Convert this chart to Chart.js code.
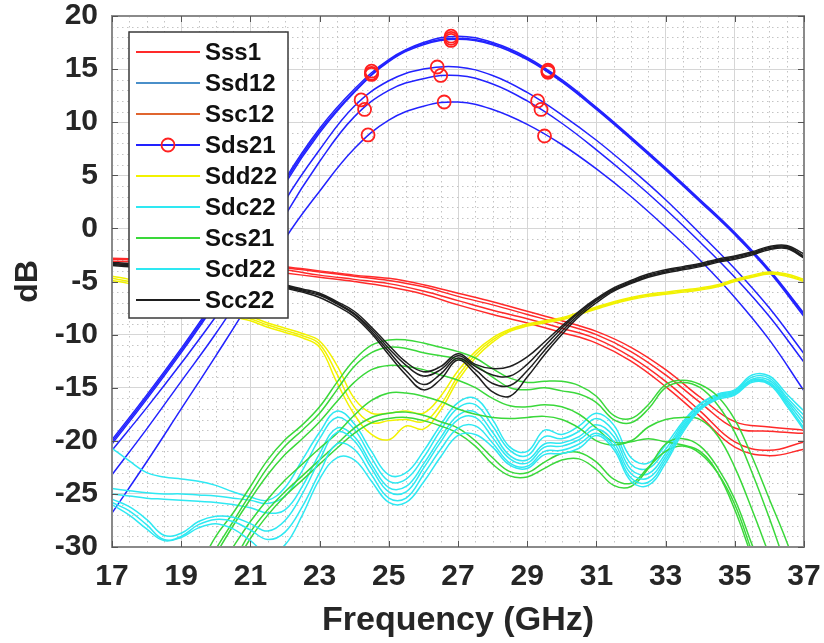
<!DOCTYPE html>
<html>
<head>
<meta charset="utf-8">
<script src="https://cdn.jsdelivr.net/npm/chart.js@4.4.1/dist/chart.umd.min.js"></script>
<style>
  html, body { margin: 0; padding: 0; background: #fff; }
  canvas { display: block; }
</style>
</head>
<body>
<canvas id="chart" width="824" height="643"></canvas>
<script>
// frequency points (GHz)
var freqCoarse = [17,18,19,20,21,22,23,24,25,26,27,28,29,30,31,32,33,34,35,36,37];
var freqFine = [17,17.5,18,18.5,19,19.5,20,20.5,21,21.5,22,22.5,23,23.5,24,24.5,25,25.5,26,26.5,
                27,27.5,28,28.5,29,29.5,30,30.5,31,31.5,32,32.5,33,33.5,34,34.5,35,35.5,36,36.5,37];

// Sss1 (dB, on freqCoarse)
var sss1A = [-2.8,-2.9,-3.0,-3.1,-3.3,-3.6,-4.0,-4.4,-4.7,-5.3,-6.1,-6.9,-7.8,-8.7,-9.7,-11.2,-13.3,-15.9,-18.2,-18.7,-19.0];
var sss1B = [-2.9,-3.0,-3.1,-3.2,-3.4,-3.7,-4.1,-4.5,-4.9,-5.5,-6.4,-7.2,-8.1,-9.0,-10.0,-11.6,-13.8,-16.4,-18.8,-19.1,-19.3];
var sss1C = [-3.1,-3.2,-3.3,-3.4,-3.6,-3.9,-4.4,-4.8,-5.2,-5.9,-6.8,-7.7,-8.5,-9.4,-10.4,-12.1,-14.4,-17.2,-20.1,-20.9,-20.1];
var sss1D = [-3.3,-3.4,-3.5,-3.6,-3.8,-4.2,-4.6,-5.0,-5.5,-6.2,-7.2,-8.1,-8.9,-9.8,-10.8,-12.5,-14.9,-17.7,-20.6,-21.4,-20.8];

// Ssd12 / Ssc12: nothing visible inside the plotted range
var ssd12 = [];
var ssc12 = [];

// Sds21 (dB, on freqCoarse)
var sds21A = [-19.9,-15.7,-11.3,-6.6,-1.4,4.6,9.4,13.1,15.9,17.5,18.1,17.5,16.1,14.0,11.4,8.6,5.7,2.7,-0.4,-3.9,-8.0];
var sds21B = [-20.1,-15.9,-11.5,-6.8,-1.6,4.4,9.2,12.9,15.8,17.4,17.9,17.4,16.0,13.9,11.3,8.5,5.6,2.6,-0.5,-4.0,-8.1];
var sds21C = [-20.3,-16.1,-11.7,-7.0,-1.8,4.2,9.0,12.8,15.7,17.3,17.8,17.3,15.9,13.8,11.2,8.4,5.5,2.5,-0.6,-4.1,-8.3];
var sds21D = [-20.9,-16.9,-12.7,-8.3,-3.5,2.6,7.4,11.5,13.9,15.0,15.2,14.4,12.8,10.7,8.3,5.6,2.7,-0.5,-3.8,-7.5,-11.8];
var sds21E = [-23.2,-18.9,-14.4,-9.9,-4.9,1.2,6.3,10.5,13.0,14.1,14.4,13.6,12.0,9.9,7.4,4.7,1.8,-1.3,-4.6,-8.3,-12.6];
var sds21F = [-26.8,-22.0,-17.0,-12.0,-6.8,-1.0,3.5,7.5,10.2,11.5,11.9,11.2,9.8,7.9,5.6,3.0,0.1,-3.0,-6.5,-10.5,-15.3];
// Sds21 marker circles
var sds21MarkFreq = [24.5,26.8,29.6, 24.5,26.8,29.6, 24.5,26.8,29.6, 24.2,26.4,29.3, 24.3,26.5,29.4, 24.4,26.6,29.5];
var sds21MarkVal  = [14.8,18.1,14.9, 14.6,17.9,14.8, 14.5,17.7,14.7, 12.1,15.2,12.0, 11.2,14.4,11.2, 8.8,11.9,8.7];

// Sdd22 (dB, on freqFine)
var sdd22A = [-4.5,-4.8,-5.2,-5.6,-6.1,-6.7,-7.3,-7.9,-8.3,-8.9,-9.4,-9.9,-10.6,-12.9,-16.0,-17.4,-17.4,-17.2,-17.4,-15.8,
              -13.4,-11.6,-10.3,-9.5,-9.0,-8.7,-8.4,-7.9,-7.4,-6.9,-6.5,-6.2,-6.0,-5.8,-5.6,-5.3,-4.8,-4.4,-4.1,-4.3,-4.8];
var sdd22B = [-4.7,-5.0,-5.4,-5.8,-6.3,-6.9,-7.5,-8.1,-8.5,-9.1,-9.6,-10.1,-10.9,-13.7,-16.8,-18.3,-18.1,-18.0,-18.2,-16.6,
              -13.9,-11.9,-10.5,-9.6,-9.1,-8.8,-8.5,-8.0,-7.5,-7.0,-6.6,-6.3,-6.1,-5.9,-5.7,-5.4,-4.9,-4.5,-4.2,-4.4,-4.9];
var sdd22C = [-4.9,-5.2,-5.6,-6.0,-6.5,-7.1,-7.7,-8.3,-8.7,-9.3,-9.8,-10.3,-11.2,-14.5,-17.5,-19.4,-19.9,-18.6,-18.9,-17.1,
              -14.3,-12.2,-10.7,-9.7,-9.2,-8.9,-8.6,-8.1,-7.6,-7.1,-6.7,-6.4,-6.2,-6.0,-5.8,-5.5,-5.0,-4.6,-4.3,-4.5,-5.0];

// Sdc22 (dB, on freqFine)
var sdc22A = [-20.7,-21.9,-23.0,-23.4,-23.6,-23.8,-24.2,-24.8,-25.3,-25.6,-24.4,-21.8,-19.2,-17.2,-18.4,-21.0,-23.2,-23.0,-21.0,-18.5,
              -16.4,-16.0,-18.0,-20.6,-21.0,-19.0,-19.4,-18.6,-17.4,-18.5,-21.6,-22.1,-20.4,-18.2,-16.5,-15.6,-15.2,-13.8,-13.9,-15.6,-17.2];
var sdc22B = [-24.5,-24.7,-24.9,-25.0,-25.0,-25.1,-25.2,-25.4,-25.6,-25.9,-25.2,-22.8,-19.8,-17.8,-18.9,-21.6,-23.8,-23.6,-21.6,-19.0,
              -16.9,-16.6,-18.6,-20.9,-21.4,-19.6,-19.8,-19.1,-17.9,-19.1,-22.2,-22.6,-20.8,-18.4,-16.6,-15.7,-15.3,-14.0,-14.1,-15.9,-17.6];
var sdc22C = [-25.0,-25.2,-25.4,-25.5,-25.6,-25.7,-25.8,-26.0,-26.3,-26.8,-26.5,-24.3,-21.2,-18.8,-19.6,-22.2,-24.4,-24.3,-22.2,-19.7,
              -17.6,-17.3,-19.2,-21.4,-21.8,-20.3,-20.2,-19.6,-18.5,-19.6,-22.7,-23.1,-21.2,-18.6,-16.8,-15.8,-15.4,-14.2,-14.3,-16.1,-18.0];

// Scs21 (dB, on freqFine; null = below the plotted range)
var scs21A = [null,null,null,null,null,-32.0,-29.0,-26.8,-24.3,-21.8,-19.9,-18.5,-16.8,-14.5,-12.4,-11.0,-10.5,-10.5,-10.8,-11.2,
              -11.6,-12.2,-13.2,-14.1,-14.5,-14.4,-14.4,-14.8,-15.8,-17.6,-17.9,-16.6,-14.7,-14.3,-14.7,-15.8,-18.0,-21.5,-25.5,-29.5,-34.0];
var scs21B = [null,null,null,null,null,-33.0,-30.2,-27.6,-25.0,-22.5,-20.5,-19.0,-17.4,-15.2,-13.0,-11.7,-11.2,-11.3,-11.7,-12.0,
              -12.3,-12.9,-14.0,-15.0,-15.2,-15.0,-15.3,-15.6,-16.4,-18.0,-18.3,-17.0,-15.0,-14.5,-15.0,-16.6,-19.2,-23.0,-27.3,-32.0,null];
var scs21C = [null,null,null,null,null,-33.5,-30.7,-28.0,-25.5,-23.2,-21.3,-19.8,-18.2,-16.3,-14.5,-13.3,-12.9,-13.0,-13.3,-13.8,
              -14.3,-15.0,-16.0,-16.7,-16.8,-16.6,-16.8,-17.5,-18.8,-20.1,-20.0,-18.7,-18.0,-17.8,-18.0,-19.5,-22.5,-26.5,-30.8,null,null];
var scs21D = [null,null,null,null,null,null,-32.5,-30.0,-27.6,-25.5,-23.7,-22.2,-20.7,-19.3,-17.6,-16.2,-15.5,-15.5,-15.8,-16.3,
              -17.0,-17.5,-17.8,-17.9,-17.8,-17.7,-18.0,-18.8,-20.0,-20.4,-20.1,-19.8,-20.1,-20.4,-21.0,-23.0,-26.5,-31.0,null,null,null];
var scs21E = [null,null,null,null,null,null,null,-31.5,-28.6,-26.5,-24.8,-23.3,-21.8,-20.3,-18.8,-17.8,-17.4,-17.3,-17.6,-18.2,
              -18.8,-20.0,-21.6,-22.9,-23.0,-22.0,-21.2,-21.1,-22.0,-23.6,-24.0,-22.5,-21.0,-20.5,-21.2,-23.0,-26.0,-30.5,null,null,null];
var scs21F = [null,null,null,null,null,null,null,-32.0,-29.2,-27.0,-25.2,-23.7,-22.2,-20.7,-19.3,-18.3,-17.9,-17.8,-18.1,-18.6,
              -19.3,-20.5,-22.2,-23.3,-23.4,-22.6,-21.8,-21.7,-22.7,-24.2,-24.3,-22.6,-20.3,-19.8,-20.5,-22.5,-25.5,-29.8,-34.0,null,null];

// Scd22 (dB, on freqFine)
var scd22A = [-25.5,-26.2,-27.4,-28.9,-28.7,-27.6,-27.1,-27.2,-27.8,-28.5,-27.5,-25.0,-21.8,-19.2,-20.0,-22.6,-24.8,-24.8,-22.6,-20.1,
              -18.0,-17.8,-19.7,-21.7,-22.1,-20.6,-20.5,-19.9,-18.9,-20.1,-23.1,-23.5,-21.5,-18.8,-16.9,-15.9,-15.5,-14.3,-14.5,-16.3,-18.4];
var scd22B = [-25.8,-26.6,-27.9,-29.3,-29.0,-27.9,-27.4,-27.6,-28.4,-29.3,-28.6,-26.2,-23.0,-20.3,-20.8,-23.2,-25.4,-25.4,-23.2,-20.8,
              -18.8,-18.6,-20.2,-22.1,-22.4,-21.0,-20.9,-20.3,-19.3,-20.5,-23.5,-23.9,-21.8,-19.0,-17.0,-16.0,-15.6,-14.4,-14.6,-16.5,-18.8];
var scd22C = [-26.0,-27.0,-28.3,-29.4,-29.1,-28.2,-27.8,-28.3,-29.4,-30.6,-29.8,-27.0,-23.6,-21.6,-21.8,-23.8,-25.8,-25.8,-23.9,-21.5,
              -19.5,-19.4,-20.6,-22.3,-22.6,-21.3,-21.2,-20.7,-19.5,-20.8,-23.8,-24.2,-22.1,-19.2,-17.1,-16.1,-15.7,-14.5,-14.7,-16.7,-19.0];

// Scc22 (dB, on freqFine)
var scc22A = [-3.2,-3.3,-3.3,-3.4,-3.4,-3.5,-3.6,-3.8,-4.2,-4.7,-5.3,-5.7,-6.1,-6.9,-7.8,-9.3,-11.0,-12.6,-13.5,-13.0,
              -11.8,-12.8,-13.2,-13.0,-12.1,-10.7,-9.2,-7.8,-6.6,-5.6,-4.9,-4.3,-3.9,-3.6,-3.3,-2.9,-2.6,-2.2,-1.7,-1.6,-2.4];
var scc22B = [-3.3,-3.4,-3.4,-3.5,-3.5,-3.6,-3.7,-3.9,-4.3,-4.8,-5.4,-5.8,-6.2,-7.0,-8.0,-9.5,-11.3,-12.9,-13.9,-13.3,
              -12.0,-13.0,-13.8,-13.9,-12.8,-11.1,-9.4,-7.9,-6.7,-5.7,-5.0,-4.4,-4.0,-3.7,-3.4,-3.0,-2.7,-2.3,-1.8,-1.7,-2.6];
var scc22C = [-3.4,-3.5,-3.5,-3.6,-3.6,-3.7,-3.8,-4.0,-4.4,-4.9,-5.5,-5.9,-6.3,-7.1,-8.1,-9.7,-11.6,-13.4,-14.7,-13.7,
              -12.2,-13.3,-14.6,-14.8,-13.4,-11.5,-9.7,-8.1,-6.8,-5.8,-5.1,-4.5,-4.1,-3.8,-3.5,-3.1,-2.8,-2.4,-1.9,-1.8,-2.7];
var scc22D = [-3.5,-3.6,-3.6,-3.7,-3.7,-3.8,-3.9,-4.1,-4.5,-5.0,-5.6,-6.0,-6.5,-7.3,-8.3,-9.9,-11.9,-13.8,-15.2,-14.2,
              -12.4,-13.7,-15.4,-15.8,-14.0,-11.9,-10.0,-8.3,-7.0,-5.9,-5.2,-4.6,-4.2,-3.9,-3.6,-3.2,-2.9,-2.5,-2.0,-1.9,-2.8];

var xTicks = [17,19,21,23,25,27,29,31,33,35,37];
var yTicks = [-30,-25,-20,-15,-10,-5,0,5,10,15,20];

var FONT = '"Liberation Sans", Arial, Helvetica, sans-serif';
var TXT = '#262626';

var series = [
  {name: 'Sss1',  color: '#ff2a2a', freq: freqCoarse, curves: [sss1A, sss1B, sss1C, sss1D]},
  {name: 'Ssd12', color: '#4a8fc9', freq: freqCoarse, curves: ssd12},
  {name: 'Ssc12', color: '#e0652f', freq: freqCoarse, curves: ssc12},
  {name: 'Sds21', color: '#2222ff', freq: freqCoarse, curves: [sds21A, sds21B, sds21C, sds21D, sds21E, sds21F], marker: true},
  {name: 'Sdd22', color: '#f2f200', freq: freqFine, curves: [sdd22A, sdd22B, sdd22C]},
  {name: 'Sdc22', color: '#2ee8f2', freq: freqFine, curves: [sdc22A, sdc22B, sdc22C]},
  {name: 'Scs21', color: '#3ad83a', freq: freqFine, curves: [scs21A, scs21B, scs21C, scs21D, scs21E, scs21F]},
  {name: 'Scd22', color: '#2ee8f2', freq: freqFine, curves: [scd22A, scd22B, scd22C]},
  {name: 'Scc22', color: '#1e1e1e', freq: freqFine, curves: [scc22A, scc22B, scc22C, scc22D]}
];

function toPoints(xs, ys) {
  return xs.map(function (x, i) { return {x: x, y: ys[i]}; });
}

var datasets = [];
series.forEach(function (s, g) {
  s.curves.forEach(function (c) {
    datasets.push({
      label: s.name,
      data: toPoints(s.freq, c),
      borderColor: s.color,
      borderWidth: 1.5,
      pointRadius: 0,
      tension: 0.4,
      fill: false,
      order: 100 - g * 10
    });
  });
});
datasets.push({
  label: 'Sds21 markers',
  data: toPoints(sds21MarkFreq, sds21MarkVal),
  showLine: false,
  pointRadius: 6.5,
  pointStyle: 'circle',
  pointBorderColor: '#ff2020',
  pointBackgroundColor: 'rgba(0,0,0,0)',
  pointBorderWidth: 1.8,
  order: 60
});

// dotted minor grid
var minorGrid = {
  id: 'minorGrid',
  beforeDatasetsDraw: function (chart) {
    var ctx = chart.ctx, a = chart.chartArea, xs = chart.scales.x, ys = chart.scales.y;
    ctx.save();
    ctx.strokeStyle = '#c4c4c4';
    ctx.lineWidth = 1;
    ctx.setLineDash([1.5, 3.5]);
    for (var f = 17.5; f < 37; f += 0.5) {
      if (Math.abs((f - 17) % 2) < 1e-6) continue;
      var px = Math.round(xs.getPixelForValue(f)) + 0.5;
      ctx.beginPath(); ctx.moveTo(px, a.top); ctx.lineTo(px, a.bottom); ctx.stroke();
    }
    for (var v = -29; v < 20; v += 1) {
      if (v % 5 === 0) continue;
      var py = Math.round(ys.getPixelForValue(v)) + 0.5;
      ctx.beginPath(); ctx.moveTo(a.left, py); ctx.lineTo(a.right, py); ctx.stroke();
    }
    ctx.restore();
  }
};

// axes box, inner ticks and the boxed legend
var frameAndLegend = {
  id: 'frameAndLegend',
  afterDatasetsDraw: function (chart) {
    var ctx = chart.ctx, a = chart.chartArea, xs = chart.scales.x, ys = chart.scales.y;
    ctx.save();
    ctx.strokeStyle = '#8a8a8a';
    ctx.lineWidth = 2;
    ctx.strokeRect(a.left, a.top, a.right - a.left, a.bottom - a.top);
    ctx.lineWidth = 1;
    ctx.strokeStyle = '#555';
    xTicks.forEach(function (t) {
      var px = Math.round(xs.getPixelForValue(t)) + 0.5;
      ctx.beginPath();
      ctx.moveTo(px, a.bottom); ctx.lineTo(px, a.bottom - 6);
      ctx.moveTo(px, a.top); ctx.lineTo(px, a.top + 6);
      ctx.stroke();
    });
    yTicks.forEach(function (t) {
      var py = Math.round(ys.getPixelForValue(t)) + 0.5;
      ctx.beginPath();
      ctx.moveTo(a.left, py); ctx.lineTo(a.left + 6, py);
      ctx.moveTo(a.right, py); ctx.lineTo(a.right - 6, py);
      ctx.stroke();
    });

    var x0 = a.left + 17, y0 = a.top + 16, w = 159, h = 286;
    ctx.fillStyle = '#fff';
    ctx.fillRect(x0, y0, w, h);
    ctx.strokeStyle = '#3a3a3a';
    ctx.lineWidth = 1.5;
    ctx.strokeRect(x0, y0, w, h);
    ctx.font = 'bold 24px ' + FONT;
    ctx.textBaseline = 'middle';
    ctx.textAlign = 'left';
    series.forEach(function (s, i) {
      var y = y0 + 20 + i * 31;
      ctx.strokeStyle = s.color;
      ctx.lineWidth = 2;
      ctx.beginPath(); ctx.moveTo(x0 + 7, y); ctx.lineTo(x0 + 71, y); ctx.stroke();
      if (s.marker) {
        ctx.strokeStyle = '#ff2020';
        ctx.lineWidth = 1.8;
        ctx.beginPath(); ctx.arc(x0 + 39, y, 6.5, 0, Math.PI * 2); ctx.stroke();
      }
      ctx.fillStyle = '#111';
      ctx.fillText(s.name, x0 + 76, y + 1);
    });
    ctx.restore();
  }
};

new Chart(document.getElementById('chart'), {
  type: 'line',
  data: {datasets: datasets},
  options: {
    responsive: false,
    animation: false,
    layout: {padding: {left: 0, right: 20, top: 16, bottom: 0}},
    plugins: {legend: {display: false}, tooltip: {enabled: false}},
    scales: {
      x: {
        type: 'linear', min: 17, max: 37,
        afterBuildTicks: function (s) { s.ticks = xTicks.map(function (v) { return {value: v}; }); },
        afterFit: function (s) { s.height = 96; s.paddingLeft = 0; s.paddingRight = 0; },
        ticks: {autoSkip: false, maxRotation: 0, padding: 12, color: TXT,
                font: {family: FONT, size: 30, weight: 'bold'}},
        grid: {color: '#d6d6d6', lineWidth: 1, drawTicks: false},
        border: {display: false},
        title: {display: true, text: 'Frequency (GHz)', color: TXT,
                font: {family: FONT, size: 34, weight: 'bold'}, padding: {top: 0, bottom: 2}}
      },
      y: {
        type: 'linear', min: -30, max: 20,
        afterBuildTicks: function (s) { s.ticks = yTicks.map(function (v) { return {value: v}; }); },
        afterFit: function (s) { s.width = 112; s.paddingTop = 0; s.paddingBottom = 0; },
        ticks: {autoSkip: false, padding: 14, color: TXT,
                font: {family: FONT, size: 30, weight: 'bold'}},
        grid: {color: '#d6d6d6', lineWidth: 1, drawTicks: false},
        border: {display: false},
        title: {display: true, text: 'dB', color: TXT,
                font: {family: FONT, size: 32, weight: 'bold'}, padding: {top: 9, bottom: 0}}
      }
    }
  },
  plugins: [minorGrid, frameAndLegend]
});
</script>
</body>
</html>
